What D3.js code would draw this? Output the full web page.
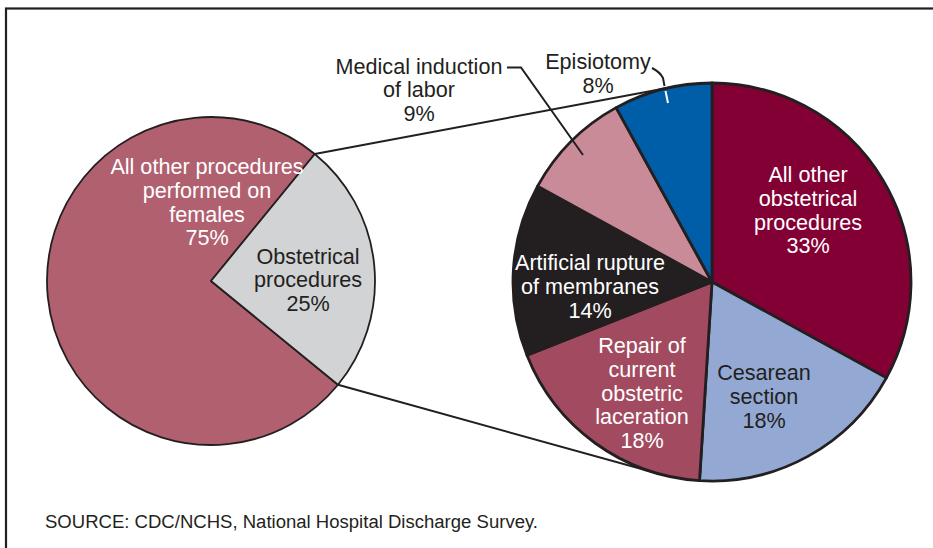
<!DOCTYPE html>
<html>
<head>
<meta charset="utf-8">
<script src="https://cdn.jsdelivr.net/npm/d3@7"></script>
<style>
  html, body { margin: 0; padding: 0; background: #fff; }
  svg { display: block; }
  text { font-family: "Liberation Sans", Arial, Helvetica, sans-serif; }
</style>
</head>
<body>
<svg id="chart" width="933" height="548"></svg>
<script>
// ---------- DATA ----------
const overviewCategories = ["All other procedures performed on females", "Obstetrical procedures"];
const overviewValues = [75, 25];
const overviewColors = ["#b0606f", "#d1d3d4"];

const obstetricCategories = [
  "All other obstetrical procedures",
  "Cesarean section",
  "Repair of current obstetric laceration",
  "Artificial rupture of membranes",
  "Medical induction of labor",
  "Episiotomy"
];
const obstetricValues = [33, 18, 18, 14, 9, 8];
const obstetricColors = ["#830034", "#94a8d4", "#a24b60", "#231f20", "#c98b97", "#005ea8"];

const sourceNote = "SOURCE: CDC/NCHS, National Hospital Discharge Survey.";

// ---------- LAYOUT ----------
const svg = d3.select("#chart");
const ink = "#231f20";
const fontSize = 21.6;
const lineH = 23.8;

// frame
svg.append("rect")
  .attr("x", 6).attr("y", 8.5).attr("width", 940).attr("height", 560)
  .attr("fill", "none").attr("stroke", ink).attr("stroke-width", 2.2);

const L = { cx: 211, cy: 281, r: 164 };
const R = { cx: 712, cy: 282, r: 199 };
const deg = Math.PI / 180;

// overview pie: obstetrical slice centred on the right-hand side
const leftStart = 129.25 * deg;
const pieL = d3.pie().sort(null).startAngle(leftStart).endAngle(leftStart + 2 * Math.PI);
const arcsL = pieL(overviewValues);
const arcL = d3.arc().innerRadius(0).outerRadius(L.r);

const pieR = d3.pie().sort(null).startAngle(0).endAngle(2 * Math.PI);
const arcsR = pieR(obstetricValues);
const arcR = d3.arc().innerRadius(0).outerRadius(R.r);

// connector lines: tangents from the obstetrical slice edges to the detail pie
function pointOn(c, r, a) { return [c.cx + r * Math.sin(a), c.cy - r * Math.cos(a)]; }
function tangent(P, C, upper) {
  const dx = P[0] - C.cx, dy = P[1] - C.cy;
  const d = Math.hypot(dx, dy);
  const th = Math.atan2(dy, dx);
  const al = Math.acos(C.r / d);
  const c1 = th + al, c2 = th - al;
  const t1 = [C.cx + C.r * Math.cos(c1), C.cy + C.r * Math.sin(c1)];
  const t2 = [C.cx + C.r * Math.cos(c2), C.cy + C.r * Math.sin(c2)];
  if (upper) return t1[1] < t2[1] ? t1 : t2;
  return t1[1] > t2[1] ? t1 : t2;
}
const obs = arcsL[1];
const pTop = pointOn(L, L.r, obs.startAngle);
const pBot = pointOn(L, L.r, obs.endAngle);
const tTop = tangent(pTop, R, true);
const tBot = tangent(pBot, R, false);
svg.append("line").attr("x1", pTop[0]).attr("y1", pTop[1]).attr("x2", tTop[0]).attr("y2", tTop[1])
  .attr("stroke", ink).attr("stroke-width", 2);
svg.append("line").attr("x1", pBot[0]).attr("y1", pBot[1]).attr("x2", tBot[0]).attr("y2", tBot[1])
  .attr("stroke", ink).attr("stroke-width", 2);

// left pie
const gL = svg.append("g").attr("transform", `translate(${L.cx},${L.cy})`);
gL.selectAll("path").data(arcsL).join("path")
  .attr("d", arcL)
  .attr("fill", (d, i) => overviewColors[i])
  .attr("stroke", ink).attr("stroke-width", 1.8).attr("stroke-linejoin", "round");

// right pie
const gR = svg.append("g").attr("transform", `translate(${R.cx},${R.cy})`);
gR.selectAll("path").data(arcsR).join("path")
  .attr("d", arcR)
  .attr("fill", (d, i) => obstetricColors[i])
  .attr("stroke", ink).attr("stroke-width", 2.8).attr("stroke-linejoin", "round");

// leader lines
svg.append("path")
  .attr("d", "M507,67.5 L521,67.5 L583,155")
  .attr("fill", "none").attr("stroke", ink).attr("stroke-width", 2);
svg.append("path")
  .attr("d", "M652,68 Q660,72 663,78 L664.5,86")
  .attr("fill", "none").attr("stroke", ink).attr("stroke-width", 2);
svg.append("line")
  .attr("x1", 665.5).attr("y1", 91).attr("x2", 668).attr("y2", 103)
  .attr("stroke", "#fff").attr("stroke-width", 2);

// labels
function label(lines, x, y0, color) {
  const t = svg.append("text")
    .attr("text-anchor", "middle")
    .attr("font-size", fontSize)
    .attr("fill", color);
  lines.forEach((s, i) => {
    t.append("tspan").attr("x", x).attr("y", y0 + i * lineH).text(s);
  });
}
const pct = v => v + "%";
label(["All other procedures", "performed on", "females", pct(overviewValues[0])], 207, 174, "#fff");
label(["Obstetrical", "procedures", pct(overviewValues[1])], 308, 263.5, ink);

label(["All other", "obstetrical", "procedures", pct(obstetricValues[0])], 808, 182, "#fff");
label(["Cesarean", "section", pct(obstetricValues[1])], 764, 380, ink);
label(["Repair of", "current", "obstetric", "laceration", pct(obstetricValues[2])], 642, 353, "#fff");
label(["Artificial rupture", "of membranes", pct(obstetricValues[3])], 590, 270, "#fff");
label(["Medical induction", "of labor", pct(obstetricValues[4])], 419, 73.5, ink);
label(["Episiotomy", pct(obstetricValues[5])], 598, 69, ink);

// source
svg.append("text")
  .attr("x", 45).attr("y", 528)
  .attr("font-size", 18)
  .attr("fill", ink)
  .attr("textLength", 493).attr("lengthAdjust", "spacingAndGlyphs")
  .text(sourceNote);
</script>
</body>
</html>
